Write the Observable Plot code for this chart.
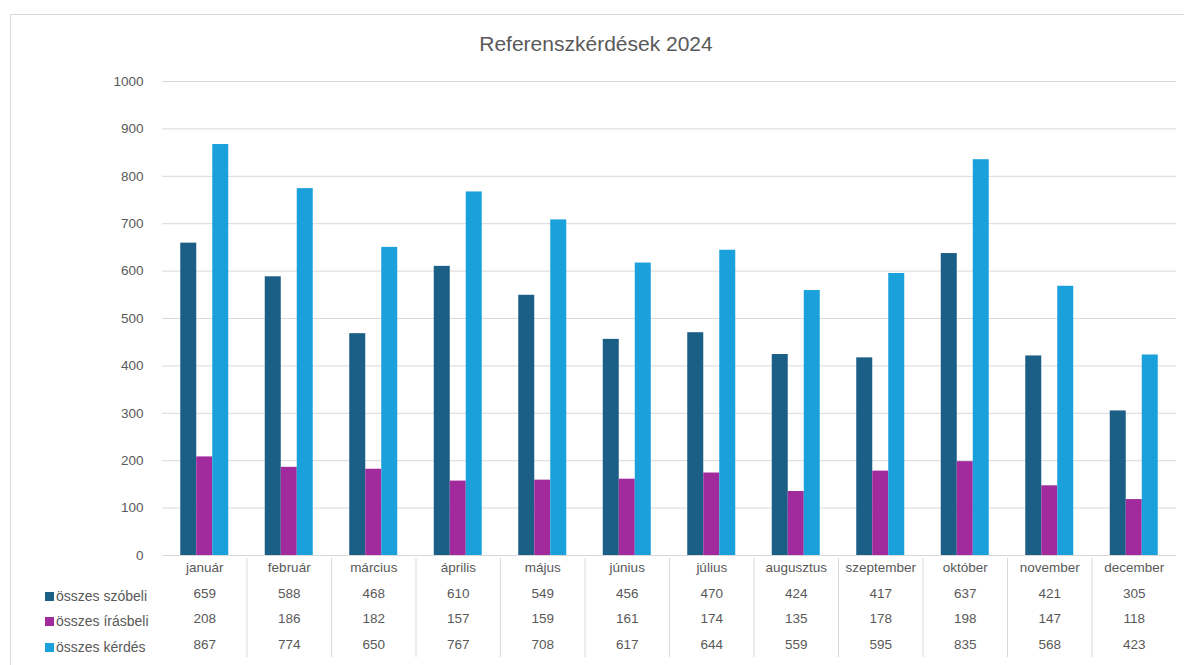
<!DOCTYPE html>
<html>
<head>
<meta charset="utf-8">
<script src="https://cdn.jsdelivr.net/npm/d3@7"></script>
<script src="https://cdn.jsdelivr.net/npm/@observablehq/plot@0.6"></script>
<style>
  html, body { margin: 0; padding: 0; background: #fff; }
  #wrap { position: relative; width: 1184px; height: 665px; overflow: hidden; }
  #border { position: absolute; left: 10px; top: 14px; width: 1190px; height: 670px; border: 1px solid #d9d9d9; box-sizing: border-box; }
  #title { position: absolute; left: 10px; width: 1172px; top: 32px; text-align: center;
           font-family: "Liberation Sans", Arial, sans-serif; font-size: 21px; color: #595959; }
  #chart { position: absolute; left: 0; top: 0; }
  .legend { position: absolute; left: 45px; font-family: "Liberation Sans", Arial, sans-serif;
            font-size: 14px; color: #595959; white-space: nowrap; line-height: 16px; }
  .legend span.key { display: inline-block; width: 9px; height: 9px; margin-right: 2px; vertical-align: 0px; }
</style>
</head>
<body>
<div id="wrap">
  <div id="border"></div>
  <div id="chart"></div>
  <div id="title">Referenszkérdések 2024</div>
</div>
<script>
const months = ["január","február","március","április","május","június","július","augusztus","szeptember","október","november","december"];
const series = ["összes szóbeli","összes írásbeli","összes kérdés"];
const colors = ["#1b5e86","#a12a9d","#1aa0da"];
const szobeli = [659,588,468,610,549,456,470,424,417,637,421,305];
const irasbeli = [208,186,182,157,159,161,174,135,178,198,147,118];
const kerdes = [867,774,650,767,708,617,644,559,595,835,568,423];
const yTicks = [0,100,200,300,400,500,600,700,800,900,1000];

const values = [szobeli, irasbeli, kerdes];

const W = 1184, H = 665;
const mL = 162, mR = 8, mT = 81, mB = 110;
const step = (W - mL - mR) / months.length;
const barW = 16;
const off = (step - 3 * barW) / 2;
const font = '"Liberation Sans", Arial, sans-serif';
const rowOffsets = [42, 67, 93];

const seriesRows = series.map((s, j) => months.map((m, i) => ({month: m, value: values[j][i]})));

const barMarks = seriesRows.map((rows, j) =>
  Plot.barY(rows, {
    x: "month", y: "value", fill: colors[j],
    insetLeft: off + j * barW, insetRight: step - off - (j + 1) * barW
  })
);

const tableMarks = seriesRows.map((rows, j) =>
  Plot.text(rows, {x: "month", text: d => String(d.value), frameAnchor: "bottom",
    dy: rowOffsets[j], fill: "#595959", fontSize: 13.5})
);

const chart = Plot.plot({
  width: W, height: H,
  marginLeft: mL, marginRight: mR, marginTop: mT, marginBottom: mB,
  style: {fontFamily: font, fontSize: "13.5px", color: "#595959", background: "transparent"},
  x: {domain: months, padding: 0, round: false, axis: null},
  y: {domain: [0, 1000], ticks: yTicks, axis: null},
  marks: [
    Plot.gridY(yTicks, {stroke: "#d9d9d9", strokeOpacity: 1, strokeWidth: 1}),
    Plot.axisY(yTicks, {tickSize: 0, tickPadding: 19, tickFormat: d => String(d), fill: "#595959", fontSize: 13.5, label: null}),
    ...barMarks,
    Plot.text(months, {x: d => d, text: d => d, frameAnchor: "bottom", dy: 16, fill: "#595959", fontSize: 13.5}),
    ...tableMarks,
    Plot.ruleX(months.slice(1), {x: d => d, dx: -step / 2, insetTop: H - mT - mB + 3, insetBottom: -102, stroke: "#d9d9d9"})
  ]
});
document.getElementById("chart").appendChild(chart);

const wrap = document.getElementById("wrap");
const legendY = [588, 613, 639];
series.forEach((s, j) => {
  const div = document.createElement("div");
  div.className = "legend";
  div.style.top = legendY[j] + "px";
  div.innerHTML = `<span class="key" style="background:${colors[j]}"></span>${s}`;
  wrap.appendChild(div);
});
</script>
</body>
</html>
